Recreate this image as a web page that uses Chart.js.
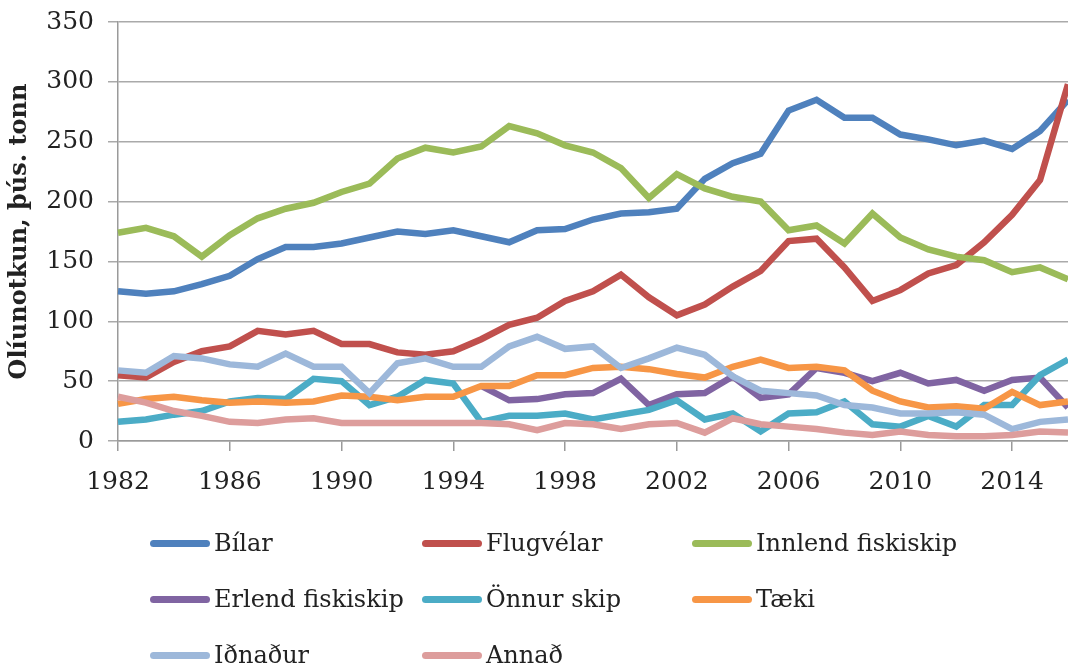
<!DOCTYPE html>
<html>
<head>
<meta charset="utf-8">
<script src="https://cdn.jsdelivr.net/npm/chart.js@4"></script>
<style>
  body { margin: 0; background: #fff; }
  #wrap { position: relative; width: 1068px; height: 666px; overflow: hidden; }
  #legend { position: absolute; left: 150px; top: 515px; display: grid;
            grid-template-columns: 272px 270px 270px; grid-auto-rows: 56px;
            font-family: 'DejaVu Serif', serif; font-size: 24px; color: #222; }
  .item { display: flex; align-items: center; height: 56px; white-space: nowrap; }
  .swatch { width: 60px; height: 7px; border-radius: 4px; margin-right: 4px; flex: none; }
</style>
</head>
<body>
<div id="wrap">
  <canvas id="olia" width="1068" height="666"></canvas>
  <div id="legend"></div>
</div>
<script>
const years = ['1982','1983','1984','1985','1986','1987','1988','1989','1990','1991','1992','1993',
  '1994','1995','1996','1997','1998','1999','2000','2001','2002','2003','2004','2005','2006','2007',
  '2008','2009','2010','2011','2012','2013','2014','2015','2016'];

const bilar = [125,123,125,131,138,152,162,162,165,170,175,173,176,171,166,176,177,185,190,191,194,219,232,240,276,285,270,270,256,252,247,251,244,259,285];
const flugvelar = [55,53,66,75,79,92,89,92,81,81,74,72,75,85,97,103,117,125,139,120,105,114,129,142,167,169,145,117,126,140,147,166,189,218,298];
const innlend = [174,178,171,154,172,186,194,199,208,215,236,245,241,246,263,257,247,241,228,203,223,211,204,200,176,180,165,190,170,160,154,151,141,145,135];
const erlend = [null,null,null,null,null,null,null,null,null,null,null,null,null,46,34,35,39,40,52,30,39,40,54,36,39,61,57,50,57,48,51,42,51,53,28];
const onnur = [16,18,22,25,33,36,35,52,50,30,37,51,48,16,21,21,23,18,22,26,34,18,23,8,23,24,33,14,12,21,12,30,30,55,68];
const taeki = [31,35,37,34,32,33,32,33,38,37,34,37,37,46,46,55,55,61,62,60,56,53,62,68,61,62,59,42,33,28,29,27,41,30,33];
const idnadur = [59,57,71,69,64,62,73,62,62,40,65,69,62,62,79,87,77,79,61,69,78,72,54,42,40,38,30,28,23,23,24,22,10,16,18];
const annad = [37,32,25,21,16,15,18,19,15,15,15,15,15,15,14,9,15,14,10,14,15,7,19,14,12,10,7,5,8,5,4,4,5,8,7];

const names = ['Bílar','Flugvélar','Innlend fiskiskip','Erlend fiskiskip','Önnur skip','Tæki','Iðnaður','Annað'];
const series = [bilar, flugvelar, innlend, erlend, onnur, taeki, idnadur, annad];
const colors = ['#4f81bd','#c0504d','#9bbb59','#8064a2','#4bacc6','#f79646','#9db8da','#dd9d9c'];

Chart.defaults.font.family = "'DejaVu Serif', serif";
Chart.defaults.color = '#222';

const datasets = series.map((d, i) => ({
  label: names[i],
  data: d,
  borderColor: colors[i],
  backgroundColor: colors[i],
  borderWidth: 6.5,
  pointRadius: 0,
  tension: 0,
  order: 8 - i
}));

const ctx = document.getElementById('olia').getContext('2d');
new Chart(ctx, {
  type: 'line',
  data: { labels: years, datasets: datasets },
  options: {
    responsive: false,
    animation: false,
    layout: { padding: { top: 22, right: 0, left: 0, bottom: 0 } },
    plugins: {
      legend: { display: false },
      tooltip: { enabled: false }
    },
    scales: {
      x: {
        offset: false,
        afterFit: scale => {
          scale.height = 225;
          // plot runs right up to the edge of the picture
          scale.paddingLeft = 0;
          scale.paddingRight = 0;
        },
        grid: {
          drawOnChartArea: false,
          tickLength: 10,
          lineWidth: 1.5,
          color: c => (c.index % 4 === 0 ? '#9a9a9a' : 'rgba(0,0,0,0)')
        },
        border: { color: '#9a9a9a', width: 1.5 },
        ticks: {
          autoSkip: false,
          maxRotation: 0,
          padding: 16,
          font: { size: 25 },
          callback: function (v, i) { return i % 4 === 0 ? this.getLabelForValue(v) : ''; }
        }
      },
      y: {
        min: 0,
        max: 350,
        afterFit: scale => {
          scale.width = 118;
          // the plot top is set by layout padding, not by the tick label padding
          scale.paddingTop = 0;
          scale.paddingBottom = 0;
        },
        grid: { color: '#aaaaaa', lineWidth: 1.5, tickLength: 10 },
        border: { color: '#9a9a9a', width: 1.5 },
        ticks: { stepSize: 50, padding: 14, font: { size: 25 } },
        title: {
          display: true,
          text: 'Olíunotkun, þús. tonn',
          font: { size: 24, weight: 'bold' },
          padding: { top: 5, bottom: 0 }
        }
      }
    }
  }
});

// legend in three columns, built from the same names and colours
const legend = document.getElementById('legend');
names.forEach((n, i) => {
  const item = document.createElement('div');
  item.className = 'item';
  item.innerHTML = '<span class="swatch" style="background:' + colors[i] + '"></span>' + n;
  legend.appendChild(item);
});
</script>
</body>
</html>
